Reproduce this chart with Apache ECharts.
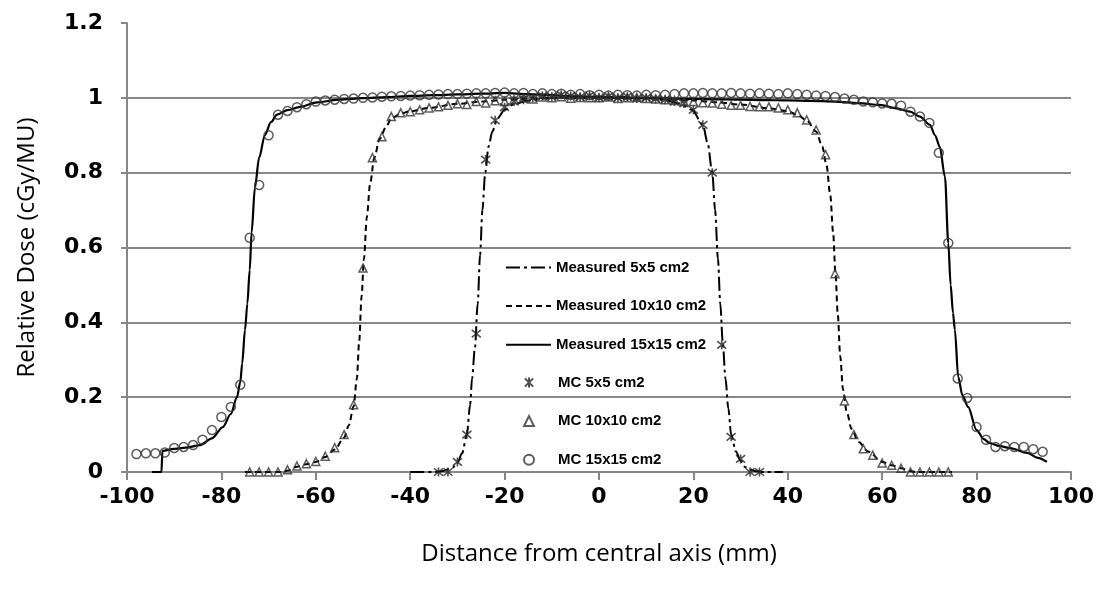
<!DOCTYPE html>
<html>
<head>
<meta charset="utf-8">
<script src="https://cdn.jsdelivr.net/npm/echarts@6/dist/echarts.min.js"></script>
<style>
html,body{margin:0;padding:0;background:#fff;}
#chart{width:1104px;height:599px;}
</style>
</head>
<body>
<div id="chart"></div>
<script>
// ---- data (mm, relative dose) ----
var xTicks = [-100, -80, -60, -40, -20, 0, 20, 40, 60, 80, 100];
var yTicks = [0, 0.2, 0.4, 0.6, 0.8, 1, 1.2];

var measured5 = [[-40,0],[-35,0],[-33,0.003],[-31,0.012],[-30,0.025],[-29,0.05],[-28,0.1],[-27.3,0.18],[-26.9,0.25],[-26.3,0.33],[-25.7,0.45],[-25.2,0.58],[-24.7,0.7],[-24.1,0.8],[-23.4,0.87],[-22.6,0.91],[-21.5,0.945],[-20,0.968],[-18,0.983],[-15,0.993],[-10,1.0],[-5,1.003],[0,1.003],[5,1.002],[10,1.0],[14,0.994],[17,0.985],[19.7,0.968],[22,0.928],[23,0.88],[24,0.8],[24.6,0.7],[25.2,0.57],[25.7,0.45],[26.2,0.35],[26.8,0.25],[27.4,0.17],[28,0.1],[29,0.055],[30,0.03],[31,0.013],[33,0.003],[35,0],[39,0]];

var measured10 = [[-75,0],[-67,0],[-66,0.004],[-64,0.014],[-62,0.021],[-60,0.027],[-58,0.04],[-56,0.06],[-54,0.092],[-53,0.125],[-52,0.175],[-51.3,0.25],[-50.8,0.35],[-50.3,0.47],[-49.8,0.57],[-49.2,0.68],[-48.5,0.77],[-47.6,0.84],[-46.5,0.89],[-45,0.925],[-44,0.945],[-42,0.958],[-40,0.964],[-36,0.973],[-30,0.984],[-25,0.99],[-20,0.995],[-10,1.0],[0,1.0],[10,0.999],[20,0.993],[25,0.988],[30,0.982],[36,0.972],[40,0.964],[42,0.955],[44,0.94],[46,0.91],[47.3,0.87],[48.2,0.82],[49,0.74],[49.6,0.64],[50.1,0.53],[50.6,0.42],[51.1,0.31],[51.7,0.22],[52.5,0.16],[53.5,0.115],[55,0.08],[57,0.055],[60,0.027],[62,0.018],[64,0.01],[66,0.003],[67,0],[74.8,0]];

var measured15 = [[-94.7,0],[-92.7,0],[-92.5,0.056],[-90,0.062],[-87,0.066],[-84.5,0.072],[-82,0.09],[-79.7,0.12],[-78,0.155],[-76.7,0.2],[-76,0.24],[-75.6,0.29],[-75,0.38],[-74.5,0.45],[-74,0.54],[-73.6,0.64],[-72.9,0.76],[-72,0.84],[-70.8,0.9],[-69.5,0.935],[-68.2,0.955],[-66,0.967],[-63.3,0.976],[-59.7,0.988],[-55,0.995],[-50,0.999],[-45,1.002],[-40,1.005],[-35,1.007],[-30,1.009],[-25,1.011],[-20,1.013],[-15,1.01],[-10,1.007],[-5,1.004],[0,1.002],[5,1.0],[10,0.999],[15,0.998],[20,0.997],[25,0.996],[30,0.995],[35,0.994],[40,0.993],[45,0.992],[50,0.99],[55,0.986],[59.5,0.981],[63,0.972],[65.9,0.963],[68,0.95],[70.1,0.928],[71.2,0.9],[72.2,0.869],[73.3,0.789],[74,0.612],[74.5,0.5],[75,0.425],[75.4,0.38],[76.1,0.254],[77,0.205],[78.2,0.174],[80,0.112],[81.5,0.088],[82.8,0.077],[85,0.069],[87.1,0.064],[90.7,0.051],[93,0.038],[94.9,0.027]];

var mc5X = [-34,-32,-30,-28,-26,-24,-22,-20,-18,-16,-14,-12,-10,-8,-6,-4,-2,0,2,4,6,8,10,12,14,16,18,20,22,24,26,28,30,32,34];
var mc5Y = [0,0,0.027,0.1,0.37,0.835,0.94,0.975,0.99,0.995,1.0,1.005,1.003,1.008,1.005,1.002,1.006,1.0,1.004,1.0,1.003,0.998,1.0,0.997,0.995,0.99,0.985,0.968,0.928,0.8,0.34,0.094,0.035,0,0];

var mc10X = [-74,-72,-70,-68,-66,-64,-62,-60,-58,-56,-54,-52,-50,-48,-46,-44,-42,-40,-38,-36,-34,-32,-30,-28,-26,-24,-22,-20,-18,-16,-14,-12,-10,-8,-6,-4,-2,0,2,4,6,8,10,12,14,16,18,20,22,24,26,28,30,32,34,36,38,40,42,44,46,48,50,52,54,56,58,60,62,64,66,68,70,72,74];
var mc10Y = [0,0,0,0,0.006,0.016,0.022,0.028,0.042,0.065,0.1,0.18,0.545,0.84,0.896,0.95,0.96,0.963,0.968,0.973,0.976,0.98,0.984,0.982,0.99,0.986,0.992,0.99,0.995,1.0,0.997,1.002,1.0,1.003,0.999,1.001,1.0,1.0,1.002,0.998,1.0,1.001,0.998,0.997,0.995,0.993,0.99,0.99,0.987,0.986,0.983,0.98,0.98,0.977,0.976,0.976,0.973,0.968,0.96,0.941,0.914,0.848,0.53,0.19,0.1,0.062,0.045,0.024,0.018,0.01,0,0,0,0,0];

var mc15X = [-98,-96,-94,-92,-90,-88,-86,-84,-82,-80,-78,-76,-74,-72,-70,-68,-66,-64,-62,-60,-58,-56,-54,-52,-50,-48,-46,-44,-42,-40,-38,-36,-34,-32,-30,-28,-26,-24,-22,-20,-18,-16,-14,-12,-10,-8,-6,-4,-2,0,2,4,6,8,10,12,14,16,18,20,22,24,26,28,30,32,34,36,38,40,42,44,46,48,50,52,54,56,58,60,62,64,66,68,70,72,74,76,78,80,82,84,86,88,90,92,94];
var mc15Y = [0.048,0.05,0.05,0.052,0.064,0.067,0.072,0.086,0.112,0.147,0.174,0.233,0.626,0.767,0.9,0.955,0.965,0.975,0.983,0.99,0.993,0.995,0.997,0.998,1.0,1.001,1.003,1.004,1.005,1.006,1.007,1.008,1.009,1.01,1.01,1.011,1.012,1.012,1.013,1.014,1.012,1.013,1.01,1.012,1.01,1.011,1.008,1.01,1.007,1.008,1.006,1.008,1.007,1.006,1.008,1.007,1.008,1.01,1.012,1.012,1.013,1.012,1.012,1.013,1.012,1.011,1.012,1.011,1.01,1.012,1.01,1.008,1.006,1.005,1.002,0.998,0.995,0.99,0.988,0.985,0.984,0.979,0.963,0.95,0.933,0.853,0.612,0.25,0.198,0.12,0.086,0.067,0.069,0.067,0.067,0.061,0.054];

var seriesNames = ['Measured 5x5 cm2','Measured 10x10 cm2','Measured 15x15 cm2','MC 5x5 cm2','MC 10x10 cm2','MC 15x15 cm2'];

function zip(xs, ys){ return xs.map(function(x,i){ return [x, ys[i]]; }); }

var starPath = 'path://M0,0L10,10M10,0L0,10M5,-1L5,11';

var chart = echarts.init(document.getElementById('chart'), null, {renderer:'canvas'});
var axisColor = '#878787';
var tickFont = {fontFamily:'DejaVu Sans', fontWeight:'bold', fontSize:22, color:'#000'};
var nameFont = {fontFamily:'Open Sans', fontSize:24, color:'#000'};
var legendText = {fontFamily:'Liberation Sans', fontWeight:'bold', fontSize:15, color:'#000'};

chart.setOption({
  animation:false,
  backgroundColor:'#fff',
  grid:{left:127, right:33, top:23, bottom:127, containLabel:false},
  xAxis:{
    type:'value', min:-100, max:100, interval:20,
    name:'Distance from central axis (mm)', nameLocation:'middle', nameGap:70, nameTextStyle:nameFont,
    axisLine:{show:true, onZero:false, lineStyle:{color:axisColor, width:2}},
    axisTick:{show:true, length:8, lineStyle:{color:axisColor, width:2}},
    axisLabel:{margin:14, formatter:function(v){return String(v);}, ...tickFont},
    splitLine:{show:false}
  },
  yAxis:{
    type:'value', min:0, max:1.2, interval:0.2,
    name:'Relative Dose (cGy/MU)', nameLocation:'middle', nameGap:88, nameRotate:90, nameTextStyle:nameFont,
    axisLine:{show:true, onZero:false, lineStyle:{color:axisColor, width:2}},
    axisTick:{show:true, length:6, lineStyle:{color:axisColor, width:2}},
    axisLabel:{margin:24, formatter:function(v){ return String(Math.round(v*10)/10); }, ...tickFont},
    splitLine:{show:true, lineStyle:{color:[axisColor,axisColor,axisColor,axisColor,axisColor,axisColor,'rgba(0,0,0,0)'], width:2}}
  },
  legend:[{
    orient:'vertical', left:505, top:260, padding:0, itemWidth:45, itemHeight:14, itemGap:23.6,
    data:seriesNames.slice(0,3), textStyle:legendText, itemStyle:{opacity:0}
  },{
    orient:'vertical', left:523, top:375, padding:0, itemWidth:10, itemHeight:10, itemGap:23.6,
    data:seriesNames.slice(3), textStyle:Object.assign({}, legendText, {padding:[0,0,0,19]})
  }],
  series:[
    {name:seriesNames[0], type:'line', data:measured5, symbol:'none', smooth:0.3, smoothMonotone:'x', z:3,
     lineStyle:{color:'#000', width:2, type:[14,4,3,4]}, itemStyle:{color:'#000'}},
    {name:seriesNames[1], type:'line', data:measured10, symbol:'none', smooth:0.3, smoothMonotone:'x', z:3,
     lineStyle:{color:'#000', width:2, type:[6,4]}, itemStyle:{color:'#000'}},
    {name:seriesNames[2], type:'line', data:measured15, symbol:'none', smooth:0.3, smoothMonotone:'x', z:3,
     lineStyle:{color:'#000', width:2.2, type:'solid'}, itemStyle:{color:'#000'}},
    {name:seriesNames[3], type:'scatter', data:zip(mc5X, mc5Y), symbol:starPath, symbolSize:9, z:4,
     itemStyle:{color:'#222', borderColor:'#222', borderWidth:1.6}},
    {name:seriesNames[4], type:'scatter', data:zip(mc10X, mc10Y), symbol:'triangle', symbolSize:8, z:4,
     itemStyle:{color:'rgba(255,255,255,0)', borderColor:'#333', borderWidth:1.5}},
    {name:seriesNames[5], type:'scatter', data:zip(mc15X, mc15Y), symbol:'circle', symbolSize:9, z:4,
     itemStyle:{color:'rgba(255,255,255,0)', borderColor:'#333', borderWidth:1.5}}
  ]
});
</script>
</body>
</html>
